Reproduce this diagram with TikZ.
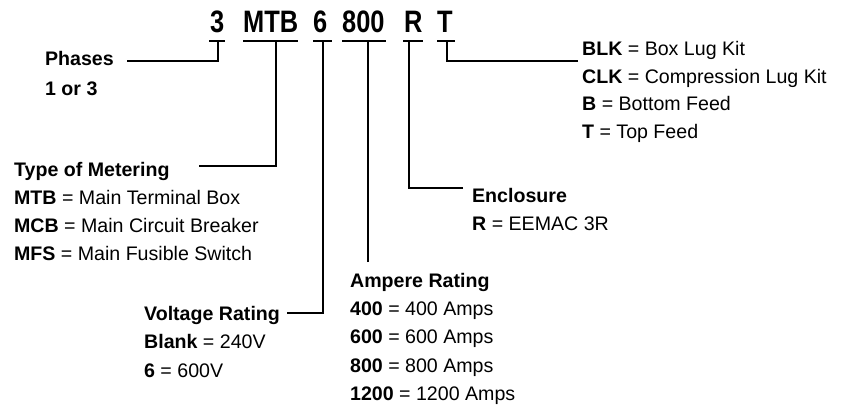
\documentclass[tikz,border=0pt]{standalone}
\usepackage{fontspec}
\setmainfont{Liberation Sans}
\newfontfamily\codefont[FakeStretch=0.82]{Liberation Sans}
\begin{document}
\begin{tikzpicture}[x=1pt,y=-1pt,line width=2.3pt,
  code/.style={anchor=base west,inner sep=0pt,font=\codefont\bfseries\fontsize{31}{31}\selectfont},
  lbl/.style={anchor=base west,inner sep=0pt,font=\fontsize{19.6}{20}\selectfont},
  ttl/.style={lbl,font=\bfseries\fontsize{19.6}{20}\selectfont}]
\useasboundingbox (0,0) rectangle (843,405);
% code letters
\node[code] (c3) at (209,32) {3};
\node[code] (cMTB) at (242,32) {MTB};
\node[code] (c6) at (312,32) {6};
\node[code] (c800) at (341,32) {800};
\node[code] (cR) at (403,32) {R};
\node[code] (cT) at (436,32) {T};
% underline coordinates
\coordinate (u3) at (218,41);
\coordinate (uMTB) at (276,41);
\coordinate (u6) at (323,41);
\coordinate (u800) at (368,41);
\coordinate (uR) at (409,41);
\coordinate (uT) at (447,41);
\draw (209,41) -- (225,41);
\draw (243,41) -- (298,41);
\draw (313,41) -- (332,41);
\draw (342,41) -- (386,41);
\draw (403,41) -- (423,41);
\draw (437,41) -- (455,41);
% labels
\node[ttl] (ph) at (44,65) {Phases};
\node[ttl] (ph2) at (44,95) {1 or 3};
\node[ttl] (tm) at (13,176) {Type of Metering};
\node[lbl] (tm1) at (13,204) {\textbf{MTB} = Main Terminal Box};
\node[lbl] (tm2) at (13,232) {\textbf{MCB} = Main Circuit Breaker};
\node[lbl] (tm3) at (13,260) {\textbf{MFS} = Main Fusible Switch};
\node[ttl] (vr) at (143,320) {Voltage Rating};
\node[lbl] (vr1) at (143,348) {\textbf{Blank} = 240V};
\node[lbl] (vr2) at (143,377) {\textbf{6} = 600V};
\node[ttl] (ar) at (349,287) {Ampere Rating};
\node[lbl] (ar1) at (349,315) {\textbf{400} = 400 Amps};
\node[lbl] (ar2) at (349,343) {\textbf{600} = 600 Amps};
\node[lbl] (ar3) at (349,372) {\textbf{800} = 800 Amps};
\node[lbl] (ar4) at (349,400) {\textbf{1200} = 1200 Amps};
\node[ttl] (en) at (471,202) {Enclosure};
\node[lbl] (en1) at (471,230) {\textbf{R} = EEMAC 3R};
\node[lbl] (lk1) at (581,55) {\textbf{BLK} = Box Lug Kit};
\node[lbl] (lk2) at (581,83) {\textbf{CLK} = Compression Lug Kit};
\node[lbl] (lk3) at (581,110) {\textbf{B} = Bottom Feed};
\node[lbl] (lk4) at (581,138) {\textbf{T} = Top Feed};
% connector free ends
\coordinate (pe) at (127,61);
\coordinate (te) at (199,166);
\coordinate (ve) at (287,313);
\coordinate (ae) at (368,262);
\coordinate (ee) at (463,188);
\coordinate (le) at (578,61);
\draw (pe) -| (u3);
\draw (te) -| (uMTB);
\draw (ve) -| (u6);
\draw (ae) -- (u800);
\draw (ee) -| (uR);
\draw (le) -| (uT);
\end{tikzpicture}
\end{document}
